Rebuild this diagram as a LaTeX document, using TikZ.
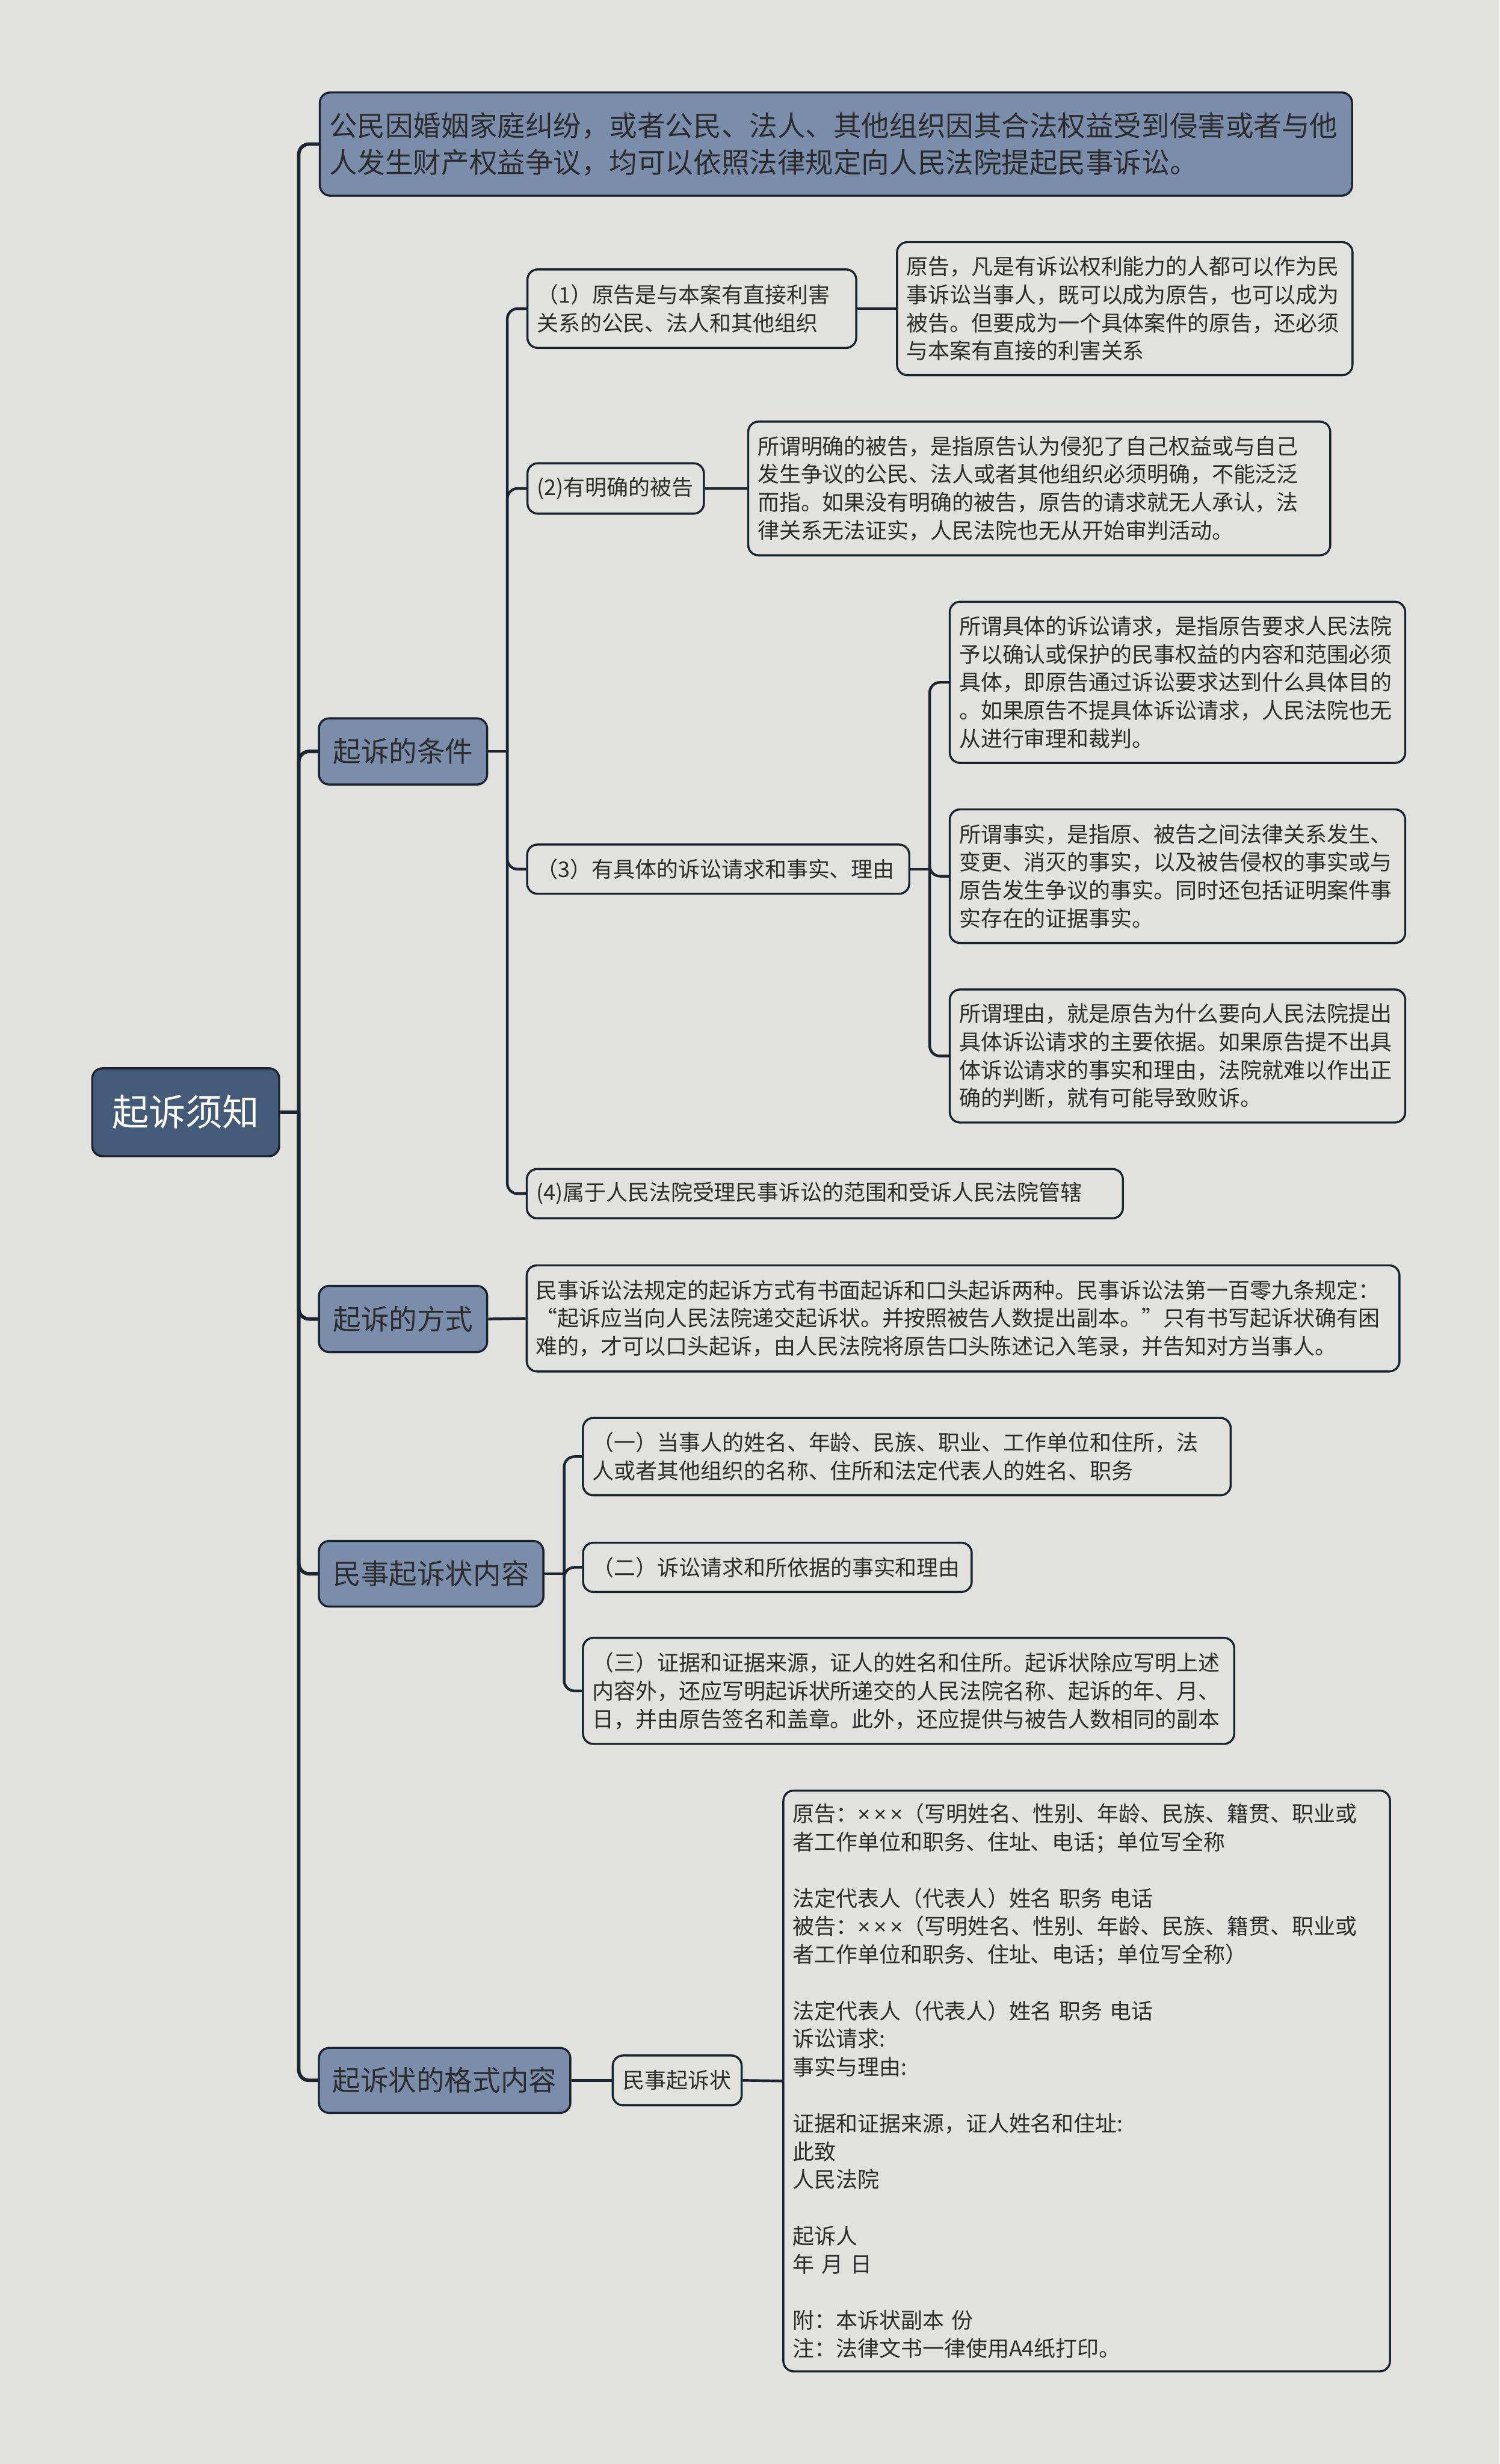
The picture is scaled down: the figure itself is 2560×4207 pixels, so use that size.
\documentclass[tikz,border=0pt]{standalone}
\usepackage{fontspec}
\setmainfont{Noto Sans CJK SC}
\newfontfamily\latinfont{Liberation Sans}
\usetikzlibrary{calc}

\definecolor{bgcol}{HTML}{E1E2DD}
\definecolor{rootcol}{HTML}{435A78}
\definecolor{topiccol}{HTML}{7A8DAA}
\definecolor{edgecol}{HTML}{1A2330}
\definecolor{linecol}{HTML}{1C2532}
\definecolor{txtcol}{HTML}{2C2C2C}

\newcommand{\fsmall}{\fontsize{10.5pt}{13.66pt}\selectfont}
\newcommand{\fmid}{\fontsize{13.6pt}{17.9pt}\selectfont}
\newcommand{\fbig}{\fontsize{17.9pt}{22pt}\selectfont}
\newcommand{\xxx}{{\latinfont ×\,×\,×}}

\begin{document}
\begin{tikzpicture}[x=0.01cm, y=-0.01cm,
    link/.style={draw=linecol, line width=1.3pt, rounded corners=5pt},
    spine/.style={link, line width=1.7pt},
    rootbox/.style={draw=edgecol, fill=rootcol, rounded corners=5pt, line width=1pt,
      text=white, font=\fbig},
    topicbox/.style={draw=edgecol, fill=topiccol, rounded corners=5pt, line width=1pt,
      text=txtcol, font=\fmid},
    leafbox/.style={draw=edgecol, fill=bgcol, rounded corners=5pt, line width=1pt,
      text=txtcol, font=\fsmall, align=left, inner xsep=0.16cm, inner ysep=0pt}]

  \useasboundingbox (0,0) rectangle (2560,4207);
  \fill[bgcol] (0,0) rectangle (2560,4207);

  % root and main topics
  \node[rootbox, minimum width=3.19cm, minimum height=1.5cm] (root) at (317,1899) {起诉须知};
  \node[topicbox, align=left, text width=17.29cm, inner xsep=0.16cm, minimum height=1.76cm] (intro) at (1427,246)
    {公民因婚姻家庭纠纷，或者公民、法人、其他组织因其合法权益受到侵害或者与他\\
     人发生财产权益争议，均可以依照法律规定向人民法院提起民事诉讼。};
  \node[topicbox, minimum width=2.87cm, minimum height=1.13cm] (cond) at (688,1283) {起诉的条件};
  \node[topicbox, minimum width=2.87cm, minimum height=1.13cm] (mode) at (688,2252) {起诉的方式};
  \node[topicbox, minimum width=3.83cm, minimum height=1.12cm] (content) at (736,2687) {民事起诉状内容};
  \node[topicbox, minimum width=4.29cm, minimum height=1.11cm] (form) at (759,3552) {起诉状的格式内容};

  % conditions
  \node[leafbox, text width=5.29cm, minimum height=1.34cm] (cond1) at (1181,527)
    {（1）原告是与本案有直接利害\\关系的公民、法人和其他组织};
  \node[leafbox, text width=7.45cm, minimum height=2.27cm] (cond1d) at (1920,527)
    {原告，凡是有诉讼权利能力的人都可以作为民\\事诉讼当事人，既可以成为原告，也可以成为\\
     被告。但要成为一个具体案件的原告，还必须\\与本案有直接的利害关系};
  \node[leafbox, text width=2.69cm, minimum height=0.86cm] (cond2) at (1051,834) {(2)有明确的被告};
  \node[leafbox, text width=9.61cm, minimum height=2.28cm] (cond2d) at (1774,834)
    {所谓明确的被告，是指原告认为侵犯了自己权益或与自己\\发生争议的公民、法人或者其他组织必须明确，不能泛泛\\
     而指。如果没有明确的被告，原告的请求就无人承认，法\\律关系无法证实，人民法院也无从开始审判活动。};
  \node[leafbox, text width=6.2cm, minimum height=0.84cm] (cond3) at (1226,1484)
    {（3）有具体的诉讼请求和事实、理由};
  \node[leafbox, text width=7.45cm, minimum height=2.75cm] (cond3a) at (2010,1165)
    {所谓具体的诉讼请求，是指原告要求人民法院\\予以确认或保护的民事权益的内容和范围必须\\
     具体，即原告通过诉讼要求达到什么具体目的\\。如果原告不提具体诉讼请求，人民法院也无\\从进行审理和裁判。};
  \node[leafbox, text width=7.45cm, minimum height=2.28cm] (cond3b) at (2010,1496)
    {所谓事实，是指原、被告之间法律关系发生、\\变更、消灭的事实，以及被告侵权的事实或与\\
     原告发生争议的事实。同时还包括证明案件事\\实存在的证据事实。};
  \node[leafbox, text width=7.45cm, minimum height=2.27cm] (cond3c) at (2010,1803)
    {所谓理由，就是原告为什么要向人民法院提出\\具体诉讼请求的主要依据。如果原告提不出具\\
     体诉讼请求的事实和理由，法院就难以作出正\\确的判断，就有可能导致败诉。};
  \node[leafbox, text width=9.85cm, minimum height=0.84cm] (cond4) at (1408,2038)
    {(4)属于人民法院受理民事诉讼的范围和受诉人民法院管辖};

  % mode
  \node[leafbox, text width=14.57cm, minimum height=1.81cm] (mode1) at (1644,2251)
    {民事诉讼法规定的起诉方式有书面起诉和口头起诉两种。民事诉讼法第一百零九条规定：\\
     “起诉应当向人民法院递交起诉状。并按照被告人数提出副本。”只有书写起诉状确有困\\
     难的，才可以口头起诉，由人民法院将原告口头陈述记入笔录，并告知对方当事人。};

  % content
  \node[leafbox, text width=10.73cm, minimum height=1.32cm] (item1) at (1548,2487)
    {（一）当事人的姓名、年龄、民族、职业、工作单位和住所，法\\人或者其他组织的名称、住所和法定代表人的姓名、职务};
  \node[leafbox, text width=6.31cm, minimum height=0.84cm] (item2) at (1327,2676)
    {（二）诉讼请求和所依据的事实和理由};
  \node[leafbox, text width=10.79cm, minimum height=1.81cm] (item3) at (1551,2887)
    {（三）证据和证据来源，证人的姓名和住所。起诉状除应写明上述\\内容外，还应写明起诉状所递交的人民法院名称、起诉的年、月、\\
     日，并由原告签名和盖章。此外，还应提供与被告人数相同的副本};

  % format
  \node[leafbox, align=center, text width=1.88cm, minimum height=0.85cm] (formdoc) at (1156,3552) {民事起诉状};
  \node[leafbox, text width=10.03cm, minimum height=9.91cm] (formtxt) at (1855,3553)
    {原告：\xxx（写明姓名、性别、年龄、民族、籍贯、职业或\\者工作单位和职务、住址、电话；单位写全称\\~\\
     法定代表人（代表人）姓名 职务 电话\\被告：\xxx（写明姓名、性别、年龄、民族、籍贯、职业或\\
     者工作单位和职务、住址、电话；单位写全称）\\~\\
     法定代表人（代表人）姓名 职务 电话\\诉讼请求:\\事实与理由:\\~\\
     证据和证据来源，证人姓名和住址:\\此致\\人民法院\\~\\
     起诉人\\年 月 日\\~\\
     附：本诉状副本 份\\注：法律文书一律使用A4纸打印。};

  % connectors
  \coordinate (s0) at (510,0);
  \coordinate (s1) at (866,0);
  \coordinate (s2) at (1587,0);
  \coordinate (s3) at (963,0);

  \draw[spine] (root.east) -- (root.east -| s0);
  \foreach \n in {intro,cond,mode,content,form}
    \draw[spine] (root.east -| s0) |- (\n.west);

  \draw[link] (cond.east) -- (cond.east -| s1);
  \foreach \n in {cond1,cond2,cond3,cond4}
    \draw[link] (cond.east -| s1) |- (\n.west);
  \draw[link] (cond1.east) -- (cond1d.west);
  \draw[link] (cond2.east) -- (cond2d.west);

  \draw[link] (cond3.east) -- (cond3.east -| s2);
  \foreach \n in {cond3a,cond3b,cond3c}
    \draw[link] (cond3.east -| s2) |- (\n.west);

  \draw[link] (mode.east) -- (mode1.west);

  \draw[link] (content.east) -- (content.east -| s3);
  \foreach \n in {item1,item2,item3}
    \draw[link] (content.east -| s3) |- (\n.west);

  \draw[link] (form.east) -- (formdoc.west);
  \draw[link] (formdoc.east) -- (formtxt.west);
\end{tikzpicture}
\end{document}
